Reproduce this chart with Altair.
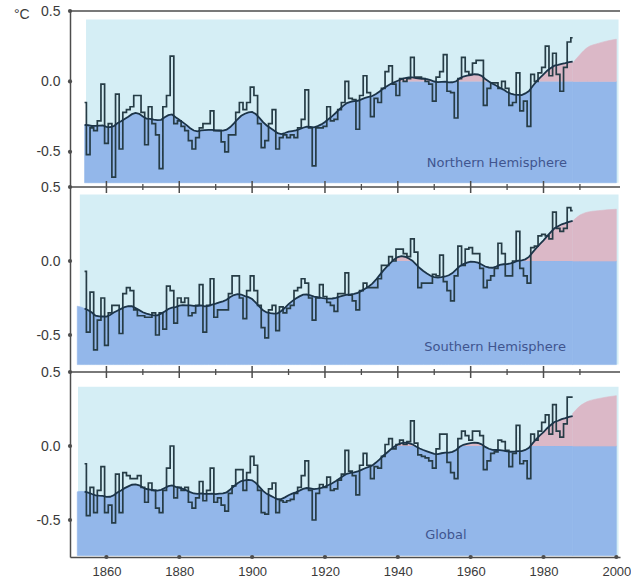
import altair as alt
import pandas as pd

# ---------------- data ----------------
YEAR_START, YEAR_END = 1854, 1988

nh_values = [
    -0.15, -0.52, -0.33, -0.35, -0.28, -0.02, -0.44, -0.30, -0.68, -0.09,  # 1854-1863
    -0.48, -0.22, -0.20, -0.18, -0.10, -0.10, -0.22, -0.45, -0.18, -0.30,  # 1864-1873
    -0.38, -0.62, -0.18, -0.10, 0.18, -0.30, -0.28, -0.32, -0.35, -0.42,   # 1874-1883
    -0.48, -0.40, -0.33, -0.30, -0.30, -0.21, -0.35, -0.35, -0.43, -0.50,  # 1884-1893
    -0.38, -0.38, -0.22, -0.15, -0.20, -0.15, -0.04, -0.10, -0.30, -0.47,  # 1894-1903
    -0.42, -0.30, -0.20, -0.48, -0.40, -0.38, -0.40, -0.38, -0.40, -0.33,  # 1904-1913
    -0.27, -0.06, -0.33, -0.60, -0.33, -0.33, -0.32, -0.18, -0.28, -0.27,  # 1914-1923
    -0.20, -0.15, 0.00, -0.12, -0.13, -0.34, -0.10, 0.04, -0.08, -0.25,    # 1924-1933
    -0.12, -0.15, -0.05, 0.07, 0.11, -0.02, -0.10, 0.02, 0.00, 0.02,       # 1934-1943
    0.17, 0.03, 0.03, 0.02, 0.00, -0.02, -0.14, 0.03, 0.07, 0.19,          # 1944-1953
    -0.07, -0.08, -0.26, 0.02, 0.17, 0.07, 0.05, 0.13, 0.15, 0.15,         # 1954-1963
    -0.17, -0.05, -0.01, -0.01, -0.05, 0.00, -0.05, -0.17, -0.15, 0.06,    # 1964-1973
    -0.21, -0.14, -0.32, 0.05, 0.00, 0.06, 0.10, 0.25, 0.04, 0.20,         # 1974-1983
    0.05, -0.07, 0.10, 0.28, 0.31,                                         # 1984-1988
]

sh_values = [
    -0.07, -0.48, -0.21, -0.60, -0.40, -0.25, -0.57, -0.35, -0.30, -0.30,  # 1854-1863
    -0.49, -0.22, -0.18, -0.20, -0.33, -0.37, -0.37, -0.38, -0.38, -0.35,  # 1864-1873
    -0.50, -0.35, -0.46, -0.17, -0.20, -0.42, -0.25, -0.28, -0.25, -0.37,  # 1874-1883
    -0.35, -0.30, -0.16, -0.48, -0.30, -0.12, -0.38, -0.33, -0.33, -0.33,  # 1884-1893
    -0.22, -0.10, -0.10, -0.25, -0.39, -0.20, -0.10, -0.20, -0.30, -0.45,  # 1894-1903
    -0.52, -0.33, -0.30, -0.47, -0.31, -0.35, -0.32, -0.30, -0.20, -0.18,  # 1904-1913
    -0.12, -0.15, -0.25, -0.40, -0.25, -0.16, -0.24, -0.28, -0.30, -0.34,  # 1914-1923
    -0.22, -0.22, -0.08, -0.23, -0.27, -0.33, -0.20, -0.15, -0.18, -0.18,  # 1924-1933
    -0.18, -0.12, -0.03, -0.03, 0.03, 0.00, 0.08, 0.08, 0.05, 0.03,        # 1934-1943
    0.15, 0.06, -0.18, -0.15, -0.15, -0.15, -0.09, -0.10, 0.04, -0.14,     # 1944-1953
    -0.20, -0.27, -0.10, 0.10, -0.03, 0.08, 0.09, 0.05, 0.05, -0.05,       # 1954-1963
    -0.18, -0.13, -0.10, -0.05, 0.12, 0.05, -0.10, -0.10, 0.00, 0.20,      # 1964-1973
    -0.05, -0.10, -0.15, 0.09, 0.10, 0.17, 0.18, 0.17, 0.15, 0.33,         # 1974-1983
    0.22, 0.20, 0.22, 0.36, 0.34,                                          # 1984-1988
]

global_values = [
    -0.12, -0.47, -0.28, -0.45, -0.30, -0.14, -0.45, -0.40, -0.52, -0.19,  # 1854-1863
    -0.45, -0.18, -0.20, -0.22, -0.22, -0.20, -0.28, -0.38, -0.25, -0.30,  # 1864-1873
    -0.42, -0.45, -0.30, -0.15, 0.00, -0.35, -0.28, -0.30, -0.28, -0.38,   # 1874-1883
    -0.42, -0.35, -0.24, -0.37, -0.30, -0.15, -0.38, -0.35, -0.40, -0.44,  # 1884-1893
    -0.32, -0.27, -0.16, -0.16, -0.30, -0.18, -0.07, -0.13, -0.30, -0.45,  # 1894-1903
    -0.46, -0.29, -0.25, -0.45, -0.37, -0.38, -0.37, -0.36, -0.32, -0.28,  # 1904-1913
    -0.20, -0.10, -0.30, -0.50, -0.32, -0.26, -0.28, -0.21, -0.30, -0.29,  # 1914-1923
    -0.23, -0.19, -0.03, -0.17, -0.20, -0.33, -0.13, -0.05, -0.13, -0.22,  # 1924-1933
    -0.14, -0.15, -0.07, 0.01, 0.05, -0.02, 0.01, 0.04, 0.01, 0.03,        # 1934-1943
    0.17, 0.02, -0.06, -0.07, -0.08, -0.10, -0.15, -0.02, 0.08, 0.08,      # 1944-1953
    -0.11, -0.18, -0.22, 0.05, 0.10, 0.07, 0.04, 0.10, 0.10, 0.07,         # 1954-1963
    -0.16, -0.10, -0.05, -0.04, 0.04, 0.03, -0.03, -0.14, -0.05, 0.14,     # 1964-1973
    -0.12, -0.10, -0.22, 0.08, 0.04, 0.10, 0.16, 0.21, 0.08, 0.28,         # 1974-1983
    0.10, 0.06, 0.15, 0.33, 0.33,                                          # 1984-1988
]

# extension of the shaded curve to 2000
proj_years = [1988, 1990, 1992, 1995, 2000]
nh_proj = [0.13, 0.19, 0.24, 0.27, 0.30]
sh_proj = [0.27, 0.31, 0.33, 0.34, 0.35]
global_proj = [0.22, 0.27, 0.30, 0.32, 0.34]

panel_names = ["Northern Hemisphere", "Southern Hemisphere", "Global"]
x_tick_labels = [1860, 1880, 1900, 1920, 1940, 1960, 1980, 2000]
top_tick_years = [1860, 1870, 1880, 1890, 1900, 1910, 1920, 1930, 1940, 1950, 1960, 1970, 1980, 1990]
y_tick_labels = [-0.5, 0.0, 0.5]

# ---------------- styling ----------------
FONT = "Liberation Sans"
NAME_FONT = "DejaVu Sans"
W = 550
XDOM = [1850, 2001]
YDOM = [-0.75, 0.5]
LIGHT = "#d5eef5"
BLUE = "#93b7ea"
PINK = "#dbb8c7"
LINE = "#263c46"
SMOOTH = "#1c3448"
AXIS = "#4d4d4d"
LABEL = "#3a3a3a"
NAMECOL = "#40558f"

xs = alt.Scale(domain=XDOM, nice=False, zero=False)
ys = alt.Scale(domain=YDOM, nice=False, zero=False)
dummy = pd.DataFrame({"d": [0]})

y_axis = alt.Axis(
    values=y_tick_labels,
    labelExpr="datum.value < 0 ? '-' + format(-datum.value, '.1f') : format(datum.value, '.1f')",
    ticks=False, domain=True, grid=False, labelPadding=10, title=None,
    labelFontSize=14, labelFont=FONT, labelColor=LABEL, domainColor=AXIS, domainWidth=1.5,
)
x_axis = alt.Axis(
    values=x_tick_labels, format="d", labelFlush=False, ticks=False,
    domain=True, grid=False, labelPadding=8, title=None, labelFontSize=13,
    labelFont=FONT, labelColor=LABEL, domainColor=AXIS, domainWidth=1.5, labelOverlap=False,
)


def build(values, proj, name, name_pos, height, lead_year, bg_left, bg_top, bottom,
          top_ticks, bottom_axis, unit):
    years = list(range(YEAR_START, YEAR_END + 1))
    assert len(values) == len(years), (name, len(values))
    lead = list(range(lead_year, YEAR_START))
    df = pd.DataFrame({"year": lead + years,
                       "value": [None] * len(lead) + [float(v) for v in values]})
    base = (alt.Chart(df)
            .transform_window(s1="mean(value)", frame=[-3, 3], sort=[alt.SortField("year")])
            .transform_window(s2="mean(s1)", frame=[-3, 3], sort=[alt.SortField("year")]))
    xa = x_axis if bottom_axis else None

    def X(field):
        return alt.X(field, scale=xs, axis=xa)

    def Y(field):
        return alt.Y(field, scale=ys, axis=y_axis)

    pdf = pd.DataFrame({"year": proj_years, "v": proj})

    layers = []
    # light background
    layers.append(alt.Chart(dummy)
                  .transform_calculate(x0=str(bg_left), x1="2000.6", y0=str(bg_top), y1=str(bottom))
                  .mark_rect(color=LIGHT).encode(
        x=X("x0:Q"), x2="x1:Q", y=Y("y0:Q"), y2="y1:Q"))
    # blue below smoothed curve (clipped at zero)
    layers.append(base.transform_calculate(bt="min(datum.s2, 0)", bb=str(bottom))
                  .mark_area(color=BLUE, stroke=BLUE, strokeWidth=0.6).encode(
        x=X("year:Q"), y=Y("bt:Q"), y2="bb:Q"))
    layers.append(alt.Chart(pdf).transform_calculate(z="0", bb=str(bottom))
                  .mark_area(color=BLUE, stroke=BLUE, strokeWidth=0.6).encode(
        x=X("year:Q"), y=Y("z:Q"), y2="bb:Q"))
    # pink above zero
    layers.append(base.transform_calculate(pt="max(datum.s2, 0)", z="0")
                  .mark_area(color=PINK).encode(
        x=X("year:Q"), y=Y("pt:Q"), y2="z:Q"))
    layers.append(alt.Chart(pdf).transform_calculate(z="0")
                  .mark_area(color=PINK, stroke=PINK, strokeWidth=0.6, interpolate="monotone").encode(
        x=X("year:Q"), y=Y("v:Q"), y2="z:Q"))
    # annual values
    layers.append(base.mark_line(interpolate="step", color=LINE, strokeWidth=1.7).encode(
        x=X("year:Q"), y=Y("value:Q")))
    # smoothed curve
    layers.append(base.transform_filter("isValid(datum.value)")
                  .mark_line(color=SMOOTH, strokeWidth=1.8).encode(
        x=X("year:Q"), y=Y("s2:Q")))
    # top frame line
    layers.append(alt.Chart(dummy).mark_rule(color=AXIS, strokeWidth=1.5).encode(
        x=alt.value(0), x2=alt.value(W), y=alt.value(0)))
    if top_ticks:
        tdf = pd.DataFrame({"year": top_tick_years})
        layers.append(alt.Chart(tdf).transform_filter("datum.year % 20 == 0")
                      .mark_rule(color=AXIS, strokeWidth=1.5).encode(
            x=X("year:Q"), y=alt.value(-6), y2=alt.value(6)))
        layers.append(alt.Chart(tdf).transform_filter("datum.year % 20 != 0")
                      .mark_rule(color=AXIS, strokeWidth=1.3).encode(
            x=X("year:Q"), y=alt.value(-3), y2=alt.value(3)))
    layers.append(alt.Chart(pd.DataFrame({"v": y_tick_labels}))
                  .mark_circle(color=AXIS, size=18, opacity=1).encode(
        x=alt.value(0), y=Y("v:Q")))
    if bottom_axis:
        layers.append(alt.Chart(pd.DataFrame({"year": x_tick_labels}))
                      .mark_circle(color=AXIS, size=18, opacity=1).encode(
            x=X("year:Q"), y=alt.value(height)))
    layers.append(alt.Chart(dummy)
                  .transform_calculate(tx=str(name_pos[0]), ty=str(name_pos[1]))
                  .mark_text(text=name, font=NAME_FONT, fontSize=13, color=NAMECOL).encode(
        x=X("tx:Q"), y=Y("ty:Q")))
    if unit:
        layers.append(alt.Chart(dummy).mark_text(text="°C", font=FONT, fontSize=14, color=LABEL,
                                                 align="left", baseline="middle")
                      .encode(x=alt.value(-56), y=alt.value(4)))
    return alt.layer(*layers).properties(width=W, height=height)


p1 = build(nh_values, nh_proj, panel_names[0], (1967.2, -0.58), 176, 1854, 1854.4, 0.44, -0.72,
           False, False, True)
p2 = build(sh_values, sh_proj, panel_names[1], (1966.7, -0.58), 185, 1852, 1852.7, 0.45, -0.70,
           True, False, False)
p3 = build(global_values, global_proj, panel_names[2], (1953.2, -0.60), 185, 1852, 1852.2, 0.40, -0.74,
           True, True, False)

chart = (alt.vconcat(p1, p2, p3, spacing=0, bounds="flush")
         .properties(padding={"left": 14, "top": 4, "right": 0, "bottom": 0}, background="white")
         .configure_view(stroke=None))

chart.save("out.html", embed_options={"renderer": "svg", "actions": False})
